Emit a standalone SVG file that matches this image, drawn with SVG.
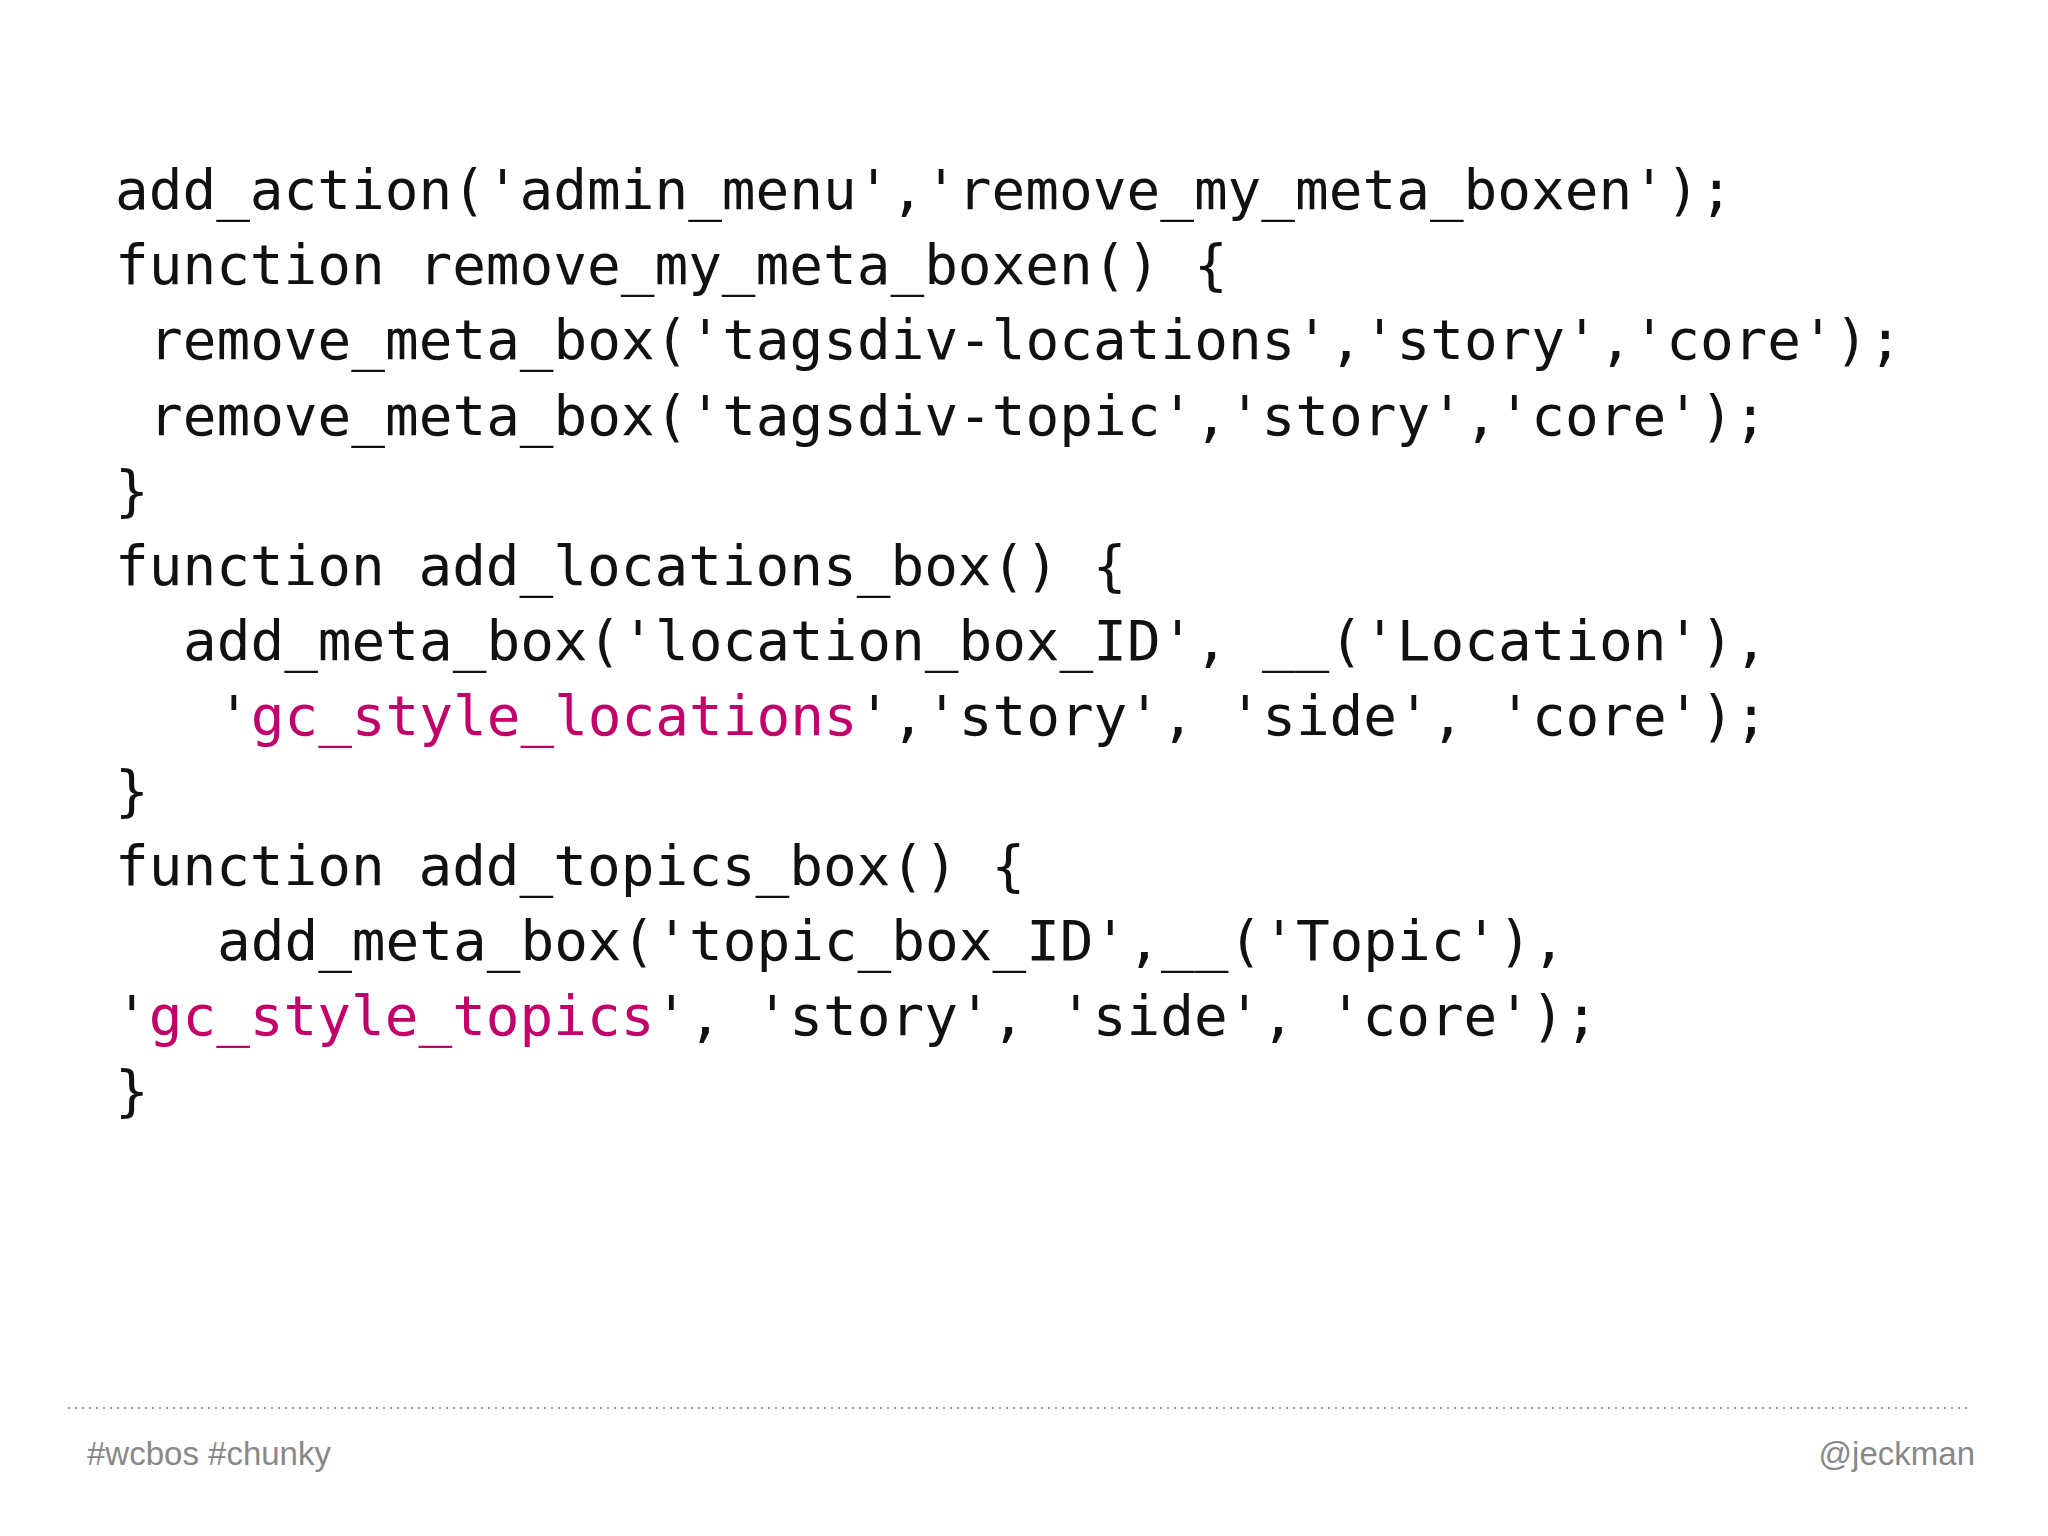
<svg xmlns="http://www.w3.org/2000/svg" width="2048" height="1536" viewBox="0 0 2048 1536">
<style>
.c{font-family:"DejaVu Sans Mono","Liberation Mono",monospace;font-size:56px;fill:#111}
.m{fill:#c2006a}
.f{font-family:"Liberation Sans",Arial,sans-serif;font-size:33px;fill:#888}
</style>
<rect width="2048" height="1536" fill="#fff"/>
<g id="code">
<text class="c" x="115" y="209">add_action('admin_menu','remove_my_meta_boxen');</text>
<text class="c" x="115" y="284">function remove_my_meta_boxen() {</text>
<text class="c" x="149" y="359">remove_meta_box('tagsdiv-locations','story','core');</text>
<text class="c" x="149" y="435">remove_meta_box('tagsdiv-topic','story','core');</text>
<text class="c" x="115" y="510">}</text>
<text class="c" x="115" y="585">function add_locations_box() {</text>
<text class="c" x="183" y="660">add_meta_box('location_box_ID', __('Location'),</text>
<text class="c" x="217" y="735">'<tspan class="m">gc_style_locations</tspan>','story', 'side', 'core');</text>
<text class="c" x="115" y="810">}</text>
<text class="c" x="115" y="885">function add_topics_box() {</text>
<text class="c" x="217" y="960">add_meta_box('topic_box_ID',__('Topic'),</text>
<text class="c" x="115" y="1035">'<tspan class="m">gc_style_topics</tspan>', 'story', 'side', 'core');</text>
<text class="c" x="115" y="1110">}</text>
</g>
<g id="footer">
<line x1="68" y1="1408" x2="1972" y2="1408" stroke="#999" stroke-width="2" stroke-dasharray="2 5"/>
<text class="f" x="87" y="1465">#wcbos #chunky</text>
<text class="f" x="1975" y="1465" text-anchor="end">@jeckman</text>
</g>
</svg>
